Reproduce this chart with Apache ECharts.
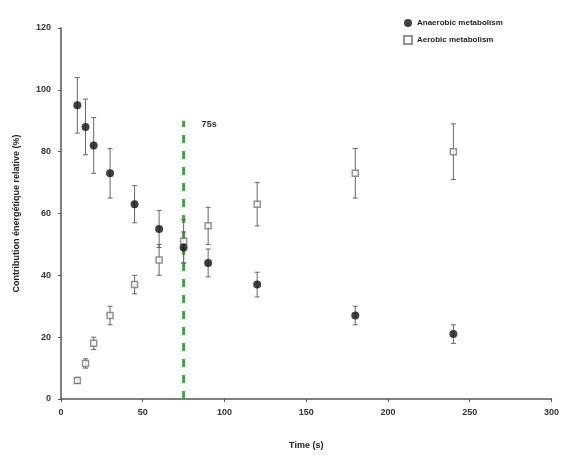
<!DOCTYPE html>
<html>
<head>
<meta charset="utf-8">
<script src="https://cdn.jsdelivr.net/npm/echarts@6/dist/echarts.min.js"></script>
<style>
  html, body { margin: 0; padding: 0; background: #fff; }
  #chart { width: 562px; height: 455px; }
</style>
</head>
<body>
<div id="chart"></div>
<script>
// temps (s)
const times = [10, 15, 20, 30, 45, 60, 75, 90, 120, 180, 240]
// métabolisme anaérobie (%)
const anaerobic = [95, 88, 82, 73, 63, 55, 49, 44, 37, 27, 21]
const anaerobicErr = [9, 9, 9, 8, 6, 6, 5, 4.5, 4, 3, 3]
// métabolisme aérobie (%)
const aerobic = [6, 11.5, 18, 27, 37, 45, 51, 56, 63, 73, 80]
const aerobicErr = [1, 1.5, 2, 3, 3, 5, 7, 6, 7, 8, 9]
// ligne verticale à 75 s
const markX = 75
const markTop = 90

const chart = echarts.init(document.getElementById('chart'))

// barres d'erreur
const errorBars = (values, errs) => times.map((t, i) => [t, values[i] - errs[i], values[i] + errs[i]])

const renderError = (params, api) => {
  const x = api.value(0)
  const lo = api.coord([x, api.value(1)])
  const hi = api.coord([x, api.value(2)])
  const w = 2.5
  const style = { stroke: '#666', lineWidth: 1 }
  return {
    type: 'group',
    children: [
      { type: 'line', shape: { x1: lo[0], y1: lo[1], x2: hi[0], y2: hi[1] }, style },
      { type: 'line', shape: { x1: lo[0] - w, y1: lo[1], x2: lo[0] + w, y2: lo[1] }, style },
      { type: 'line', shape: { x1: hi[0] - w, y1: hi[1], x2: hi[0] + w, y2: hi[1] }, style }
    ]
  }
}

const option = {
  animation: false,
  textStyle: { fontFamily: 'Liberation Sans, Arial, sans-serif' },
  grid: { left: 61, right: 9, top: 28, bottom: 54 },
  legend: {
    orient: 'vertical',
    left: 398,
    top: 14,
    itemGap: 8,
    itemWidth: 8,
    itemHeight: 8,
    textStyle: { fontSize: 8, fontWeight: 'bold', color: '#222' },
    data: ['Anaerobic metabolism', 'Aerobic metabolism']
  },
  xAxis: {
    type: 'value',
    min: 0,
    max: 300,
    interval: 50,
    name: 'Time (s)',
    nameLocation: 'middle',
    nameGap: 42,
    nameTextStyle: { fontSize: 9, fontWeight: 'bold', color: '#222' },
    axisLine: { lineStyle: { color: '#555', width: 1.5 } },
    axisTick: { show: true, length: 3, lineStyle: { color: '#555' } },
    axisLabel: { fontSize: 9, fontWeight: 'bold', color: '#333', margin: 9 },
    splitLine: { show: false }
  },
  yAxis: {
    type: 'value',
    min: 0,
    max: 120,
    interval: 20,
    name: 'Contribution énergétique relative (%)',
    nameLocation: 'middle',
    nameGap: 40,
    nameTextStyle: { fontSize: 9, fontWeight: 'bold', color: '#222' },
    axisLine: { show: true, lineStyle: { color: '#555', width: 1.5 } },
    axisTick: { show: true, length: 3, lineStyle: { color: '#555' } },
    axisLabel: { fontSize: 9, fontWeight: 'bold', color: '#333', margin: 10 },
    splitLine: { show: false }
  },
  series: [
    {
      name: 'marker75',
      type: 'line',
      data: [[markX, 0], [markX, markTop]],
      symbol: 'none',
      lineStyle: { color: '#4a9e44', width: 3, type: [8, 8] },
      endLabel: {
        show: true,
        formatter: '75s',
        fontSize: 9,
        fontWeight: 'bold',
        color: '#333',
        offset: [10, 4]
      },
      z: 1
    },
    {
      name: 'errAnaerobic',
      type: 'custom',
      renderItem: renderError,
      data: errorBars(anaerobic, anaerobicErr),
      encode: { x: 0, y: [1, 2] },
      z: 2
    },
    {
      name: 'errAerobic',
      type: 'custom',
      renderItem: renderError,
      data: errorBars(aerobic, aerobicErr),
      encode: { x: 0, y: [1, 2] },
      z: 2
    },
    {
      name: 'Anaerobic metabolism',
      type: 'scatter',
      data: times.map((t, i) => [t, anaerobic[i]]),
      symbol: 'circle',
      symbolSize: 8,
      itemStyle: { color: '#111' },
      z: 4
    },
    {
      name: 'Aerobic metabolism',
      type: 'scatter',
      data: times.map((t, i) => [t, aerobic[i]]),
      symbol: 'rect',
      symbolSize: 6,
      itemStyle: { color: '#fff', borderColor: '#777', borderWidth: 1.5 },
      z: 3
    }
  ]
}

chart.setOption(option)
</script>
</body>
</html>
